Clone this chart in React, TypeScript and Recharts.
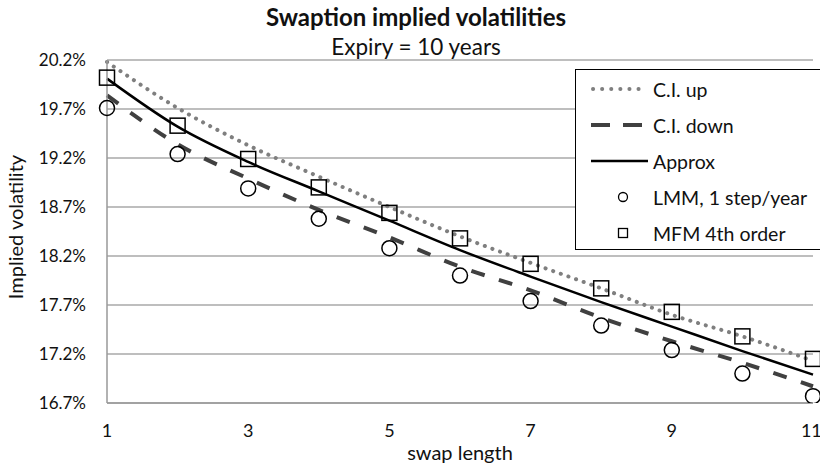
import { CartesianGrid, ComposedChart, Line, XAxis, YAxis } from "recharts";

const swapLength = [1, 2, 3, 4, 5, 6, 7, 8, 9, 10, 11];
const ciUp = [20.18, 19.71, 19.33, 19.01, 18.7, 18.4, 18.13, 17.87, 17.6, 17.38, 17.13];
const ciDown = [19.84, 19.34, 18.99, 18.67, 18.39, 18.09, 17.85, 17.57, 17.33, 17.11, 16.87];
const approx = [20.01, 19.52, 19.16, 18.86, 18.56, 18.26, 17.99, 17.73, 17.48, 17.23, 16.99];
const lmm = [19.71, 19.24, 18.89, 18.58, 18.28, 18.0, 17.74, 17.49, 17.24, 17.0, 16.77];
const mfm = [20.02, 19.53, 19.19, 18.9, 18.64, 18.38, 18.12, 17.87, 17.63, 17.38, 17.15];

const yTicks = [16.7, 17.2, 17.7, 18.2, 18.7, 19.2, 19.7, 20.2];
const xTicks = [1, 3, 5, 7, 9, 11];

const data = swapLength.map((x, i) => ({
  x,
  up: ciUp[i],
  down: ciDown[i],
  approx: approx[i],
  lmm: lmm[i],
  mfm: mfm[i],
}));

const FONT = "Lato, 'Open Sans', sans-serif";
const TEXT = "#111";

const circleDot = (p: any) => {
  if (p.cx == null || p.cy == null) return <g key={p.index} />;
  return <circle key={p.index} cx={p.cx} cy={p.cy} r={7.5} fill="none" stroke="#000" strokeWidth={1.5} />;
};

const squareDot = (p: any) => {
  if (p.cx == null || p.cy == null) return <g key={p.index} />;
  return (
    <rect key={p.index} x={p.cx - 7.5} y={p.cy - 7.5} width={15} height={15} fill="none" stroke="#000" strokeWidth={1.5} />
  );
};

function LegendIcon({ kind }: { kind: string }) {
  return (
    <svg width={62} height={20} style={{ display: "block" }}>
      {kind === "up" && (
        <line x1={2} y1={10} x2={56} y2={10} stroke="#7f7f7f" strokeWidth={4} strokeDasharray="0.1 9" strokeLinecap="round" />
      )}
      {kind === "down" && <line x1={0} y1={10} x2={56} y2={10} stroke="#404040" strokeWidth={4} strokeDasharray="19 13" />}
      {kind === "approx" && <line x1={0} y1={10} x2={57} y2={10} stroke="#000" strokeWidth={2.5} />}
      {kind === "lmm" && <circle cx={32} cy={10} r={4.5} fill="none" stroke="#000" strokeWidth={1.3} />}
      {kind === "mfm" && <rect x={27.5} y={5.5} width={9} height={9} fill="none" stroke="#000" strokeWidth={1.3} />}
    </svg>
  );
}

const legendItems = [
  { kind: "up", label: "C.I. up" },
  { kind: "down", label: "C.I. down" },
  { kind: "approx", label: "Approx" },
  { kind: "lmm", label: "LMM, 1 step/year" },
  { kind: "mfm", label: "MFM 4th order" },
];

export default function App() {
  return (
    <div
      style={{
        position: "absolute",
        left: 0,
        top: 0,
        width: 820,
        height: 464,
        overflow: "hidden",
        background: "#fff",
        fontFamily: FONT,
        color: TEXT,
      }}
    >
      <ComposedChart width={820} height={464} data={data} margin={{ top: 60, right: 7, left: 40, bottom: 31 }}>
        <CartesianGrid vertical={false} stroke="#a9a9a9" strokeWidth={1.5} />
        <XAxis
          dataKey="x"
          type="number"
          domain={[1, 11]}
          ticks={xTicks}
          tickLine={false}
          tickSize={0}
          tickMargin={21}
          height={30}
          stroke="#999"
          strokeWidth={1.5}
          tick={{ fill: TEXT, fontSize: 18, fontFamily: FONT }}
        />
        <YAxis
          type="number"
          domain={[16.7, 20.2]}
          ticks={yTicks}
          allowDataOverflow
          tickLine={false}
          tickSize={0}
          tickMargin={21}
          width={67}
          stroke="#999"
          strokeWidth={1.5}
          tickFormatter={(v: number) => `${v.toFixed(1)}%`}
          tick={{ fill: TEXT, fontSize: 17, fontFamily: FONT }}
        />
        <Line
          dataKey="up"
          type="monotone"
          stroke="#7f7f7f"
          strokeWidth={4}
          strokeDasharray="0.1 8"
          strokeLinecap="round"
          dot={false}
          activeDot={false}
          isAnimationActive={false}
        />
        <Line
          dataKey="down"
          type="monotone"
          stroke="#404040"
          strokeWidth={4}
          strokeDasharray="14 15"
          dot={false}
          activeDot={false}
          isAnimationActive={false}
        />
        <Line
          dataKey="approx"
          type="monotone"
          stroke="#000"
          strokeWidth={2.5}
          dot={false}
          activeDot={false}
          isAnimationActive={false}
        />
        <Line dataKey="lmm" stroke="none" dot={circleDot} activeDot={false} isAnimationActive={false} />
        <Line dataKey="mfm" stroke="none" dot={squareDot} activeDot={false} isAnimationActive={false} />
      </ComposedChart>

      <div
        style={{
          position: "absolute",
          left: 0,
          top: 2,
          width: 832,
          textAlign: "center",
          fontWeight: 700,
          fontSize: 24,
          lineHeight: "30px",
        }}
      >
        Swaption implied volatilities
      </div>
      <div
        style={{
          position: "absolute",
          left: 0,
          top: 32,
          width: 832,
          textAlign: "center",
          fontSize: 22.5,
          lineHeight: "30px",
        }}
      >
        Expiry = 10 years
      </div>
      <div
        style={{
          position: "absolute",
          left: 15,
          top: 227,
          transform: "translate(-50%, -50%) rotate(-90deg)",
          whiteSpace: "nowrap",
          fontSize: 20,
        }}
      >
        Implied volatility
      </div>
      <div
        style={{
          position: "absolute",
          left: 460,
          top: 452,
          transform: "translate(-50%, -50%)",
          whiteSpace: "nowrap",
          fontSize: 20,
        }}
      >
        swap length
      </div>

      <div
        style={{
          position: "absolute",
          left: 575,
          top: 69,
          width: 260,
          height: 181,
          border: "1.5px solid #000",
          background: "#fff",
          paddingTop: 1,
          boxSizing: "border-box",
        }}
      >
        {legendItems.map((it) => (
          <div key={it.kind} style={{ display: "flex", alignItems: "center", height: 36, paddingLeft: 15 }}>
            <LegendIcon kind={it.kind} />
            <span style={{ fontSize: 19.5 }}>{it.label}</span>
          </div>
        ))}
      </div>
    </div>
  );
}
